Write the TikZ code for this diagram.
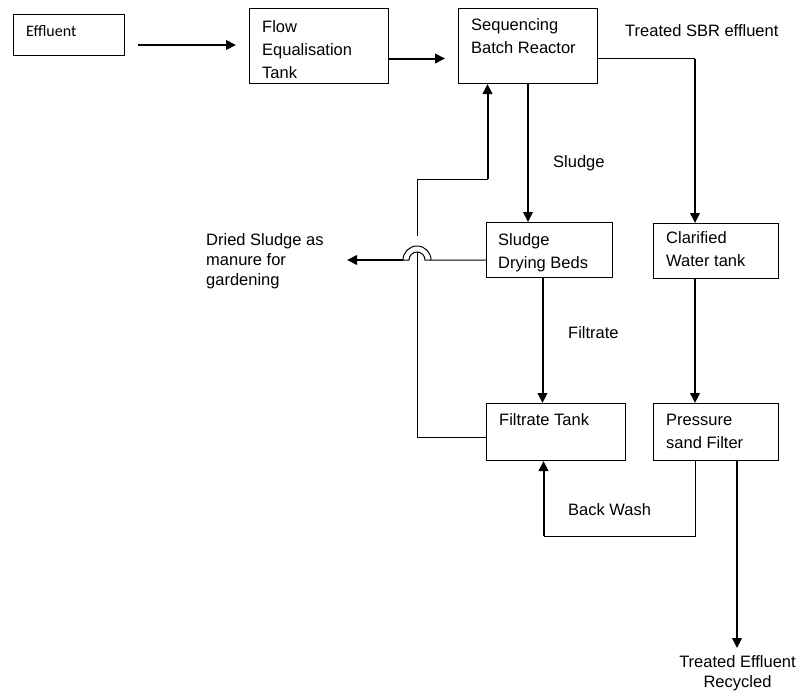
\documentclass[tikz,border=0pt]{standalone}
\usepackage{fontspec}
\setmainfont{Liberation Sans}
\newfontfamily\calfont{Carlito}
\usetikzlibrary{arrows.meta}

\begin{document}
\begin{tikzpicture}[x=1pt, y=-1pt,
    unit/.style={draw, line width=1pt, inner sep=0pt, anchor=north west},
    txt/.style={inner sep=0pt, anchor=north west, align=left, font=\fontsize{16.5}{23}\selectfont},
    note/.style={inner sep=0pt, align=left, font=\fontsize{16.5}{20}\selectfont},
    pipe/.style={line width=1pt},
    feed/.style={line width=2pt, -{Triangle[length=10pt, width=9.5pt]}}]
    \useasboundingbox (0,0) rectangle (805,696);

    % Units
    \node[unit, minimum width=111pt, minimum height=41pt] (eff) at (13,14) {};
    \node[unit, minimum width=139pt, minimum height=75pt] (fet) at (249,8) {};
    \node[unit, minimum width=139pt, minimum height=75pt] (sbr) at (458,8) {};
    \node[unit, minimum width=126pt, minimum height=55pt] (sdb) at (486,222) {};
    \node[unit, minimum width=125pt, minimum height=55pt] (cwt) at (653,223) {};
    \node[unit, minimum width=139pt, minimum height=57pt] (ft) at (486,403) {};
    \node[unit, minimum width=125pt, minimum height=57pt] (psf) at (653,403) {};

    % Texts in units
    \node[txt, font=\calfont\fontsize{16}{20}\selectfont] (efftxt) at (26,25) {Effluent};
    \node[txt] (fettxt) at (262,20.5) {Flow\\Equalisation\\Tank};
    \node[txt] (sbrtxt) at (471,18.5) {Sequencing\\Batch Reactor};
    \node[txt] (sdbtxt) at (498,233.5) {Sludge\\Drying Beds};
    \node[txt] (cwttxt) at (666,231) {Clarified\\Water tank};
    \node[txt] (fttxt) at (499,413) {Filtrate Tank};
    \node[txt] (psftxt) at (666,413.5) {Pressure\\sand Filter};

    % Stream labels
    \node[note, anchor=north west] (tse) at (625,24.5) {Treated SBR effluent};
    \node[note, anchor=north west] (slg) at (553,155) {Sludge};
    \node[note, anchor=north west] (fil) at (568,326) {Filtrate};
    \node[note, anchor=north west] (bwl) at (568,503.5) {Back Wash};
    \node[note, anchor=north west] (dsl) at (206,233.5) {Dried Sludge as\\manure for\\gardening};
    \node[note, anchor=north, align=center] (tel) at (737.5,655.5) {Treated Effluent\\Recycled};

    % Main line
    \draw[feed, shorten <=13pt, shorten >=13pt] ([yshift=1pt]eff.east |- fet.west) -- ([yshift=1pt]fet.west);
    \draw[feed, shorten >=13pt] ([yshift=-12.5pt]fet.east) -- ([yshift=-12.5pt]sbr.west);

    % Treated SBR effluent
    \coordinate (c1) at ([xshift=-21pt]cwt.north);
    \coordinate (sbrout) at ([yshift=-12.5pt]sbr.east);
    \draw[pipe] (sbrout) -- (sbrout -| c1);
    \draw[feed] (sbrout -| c1) -- (c1);
    \draw[feed] ([xshift=-21pt]cwt.south) -- ([xshift=-21pt]cwt.south |- psf.north);
    \draw[feed, shorten >=7.5pt] ([xshift=21pt]psf.south) -- ([xshift=21pt]psf.south |- tel.north);

    % Sludge and filtrate
    \draw[feed] (sbr.south) -- (sbr.south |- sdb.north);
    \draw[feed] ([xshift=-7pt]sdb.south) -- ([xshift=-7pt]sdb.south |- ft.north);

    % Back wash
    \coordinate (bw) at ([xshift=-20.5pt]psf.south);
    \coordinate (bwin) at ([xshift=-12.5pt]ft.south);
    \coordinate (bwlow) at ([yshift=-75pt]bwin);
    \draw[pipe] (bw) |- (bwlow);
    \draw[feed] (bwlow) -- (bwin);

    % Filtrate return to SBR
    \coordinate (hop) at (417,260);
    \coordinate (ftl) at ([yshift=-5.5pt]ft.west);
    \coordinate (sbrin) at ([xshift=-40.5pt]sbr.south);
    \coordinate (ret) at (sbrin |- 0,179);
    \draw[pipe] (ftl) -| ([yshift=8pt]hop);
    \draw[pipe] ([yshift=24pt]hop) |- (ret);
    \draw[feed] (ret) -- (sbrin);

    % Dried sludge with hop
    \coordinate (dso) at (347,260);
    \draw[pipe] (hop -| sdb.west) -- ([xshift=14pt]hop)
        arc[start angle=0, end angle=180, radius=14pt] -- ([xshift=-8pt]hop)
        arc[start angle=180, end angle=0, radius=8pt] -- cycle;
    \draw[feed] ([xshift=-14pt]hop) -- (dso);
\end{tikzpicture}
\end{document}
